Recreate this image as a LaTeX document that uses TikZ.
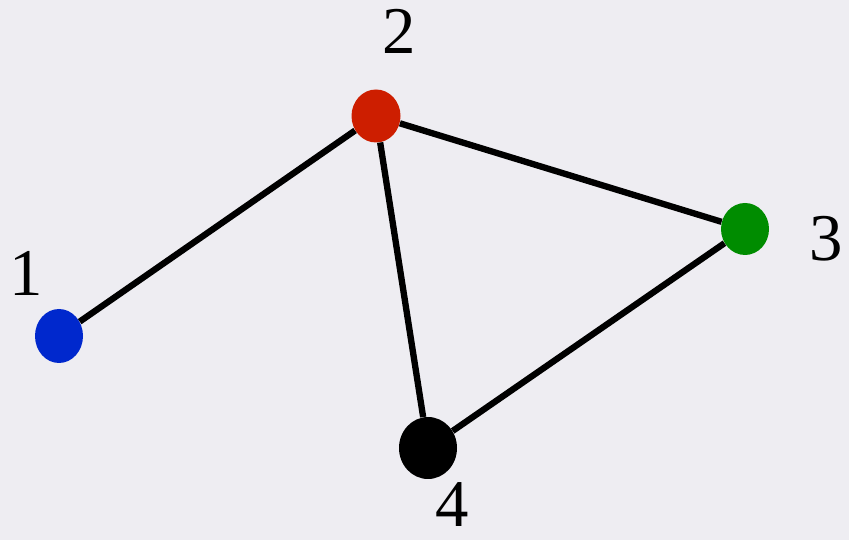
\documentclass[tikz,border=0pt]{standalone}
\usepackage{fontspec}
\setmainfont{Liberation Serif}
\usetikzlibrary{shapes.geometric}
\definecolor{paper}{RGB}{238,237,242}
\definecolor{vblue}{RGB}{0,40,205}
\definecolor{vred}{RGB}{205,30,0}
\definecolor{vgreen}{RGB}{0,140,0}
\tikzset{
    vert/.style={ellipse, inner sep=0pt},
    lbl/.style={font=\fontsize{38}{40}\selectfont, inner sep=0pt},
    edge/.style={line width=3.6pt}
}
\begin{document}
\begin{tikzpicture}
    \fill[paper] (0,0) rectangle (16.98,10.8);
    \useasboundingbox (0,0) rectangle (16.98,10.8);
    \node[vert, fill=vblue, minimum width=0.96cm, minimum height=1.08cm] (v1) at (1.18,4.08) {};
    \node[vert, fill=vred, minimum width=0.98cm, minimum height=1.06cm] (v2) at (7.52,8.48) {};
    \node[vert, fill=vgreen, minimum width=0.96cm, minimum height=1.04cm] (v3) at (14.9,6.22) {};
    \node[vert, fill=black, minimum width=1.16cm, minimum height=1.24cm] (v4) at (8.56,1.84) {};
    \draw[edge] (v1) -- (v2);
    \draw[edge] (v2) -- (v3);
    \draw[edge] (v2) -- (v4);
    \draw[edge] (v3) -- (v4);
    \node[lbl] (l1) at (0.52,5.34) {1};
    \node[lbl] (l2) at (7.98,10.18) {2};
    \node[lbl] (l3) at (16.52,6.02) {3};
    \node[lbl] (l4) at (9.04,0.7) {4};
\end{tikzpicture}
\end{document}
